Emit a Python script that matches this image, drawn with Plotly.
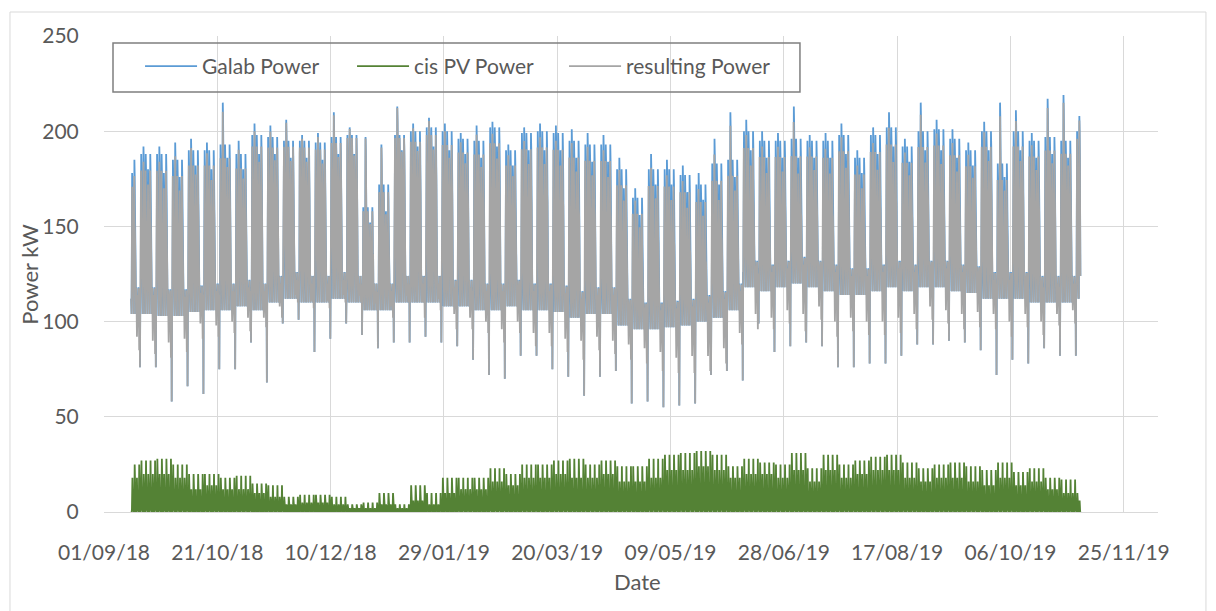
import datetime as dt
import plotly.graph_objects as go

# ---- data (one value per week, weeks starting Monday 2018-09-10) ----
week0 = dt.datetime(2018, 9, 10)
data_start = dt.datetime(2018, 9, 13)
data_end = dt.datetime(2019, 11, 6)

# typical weekday peak of Galab power (kW)
galab_typ = [185, 188, 188, 185, 190, 190, 193, 188, 198, 197,
             195, 195, 194, 197, 198, 160, 172, 198, 200, 202,
             200, 196, 195, 202, 190, 199, 200, 199, 195, 193,
             193, 180, 165, 180, 180, 177, 172, 183, 185, 200,
             195, 195, 196, 195, 195, 198, 186, 198, 202, 192,
             200, 201, 196, 190, 200, 183, 200, 195, 197, 195,
             200]
# highest spike of the week (kW)
galab_top = [188, 192, 192, 194, 196, 194, 215, 195, 204, 203,
             206, 198, 199, 210, 202, 197, 193, 213, 204, 207,
             204, 199, 203, 205, 193, 202, 204, 203, 201, 199,
             198, 186, 170, 188, 185, 182, 178, 196, 210, 206,
             200, 199, 213, 198, 199, 204, 190, 202, 210, 196,
             215, 206, 201, 194, 205, 215, 211, 199, 217, 219,
             208]
# lowest weekday peak of the week (kW)
galab_low = [178, 180, 178, 176, 182, 180, 186, 180, 188, 188,
             186, 186, 185, 188, 188, 152, 158, 190, 192, 192,
             190, 188, 186, 192, 182, 190, 190, 190, 186, 184,
             184, 170, 156, 172, 172, 168, 164, 172, 176, 190,
             186, 186, 186, 186, 186, 188, 178, 188, 192, 184,
             190, 190, 186, 182, 190, 176, 190, 186, 188, 186,
             190]
# night / weekend base load (kW)
galab_base = [104, 104, 103, 103, 105, 106, 106, 108, 106, 110,
              112, 110, 110, 112, 110, 106, 106, 110, 110, 110,
              108, 108, 106, 106, 108, 106, 106, 105, 102, 104,
              104, 98, 96, 96, 97, 98, 100, 102, 106, 118,
              116, 118, 120, 118, 116, 114, 114, 116, 118, 116,
              118, 118, 116, 115, 112, 112, 112, 110, 110, 110,
              112]
# weekly minimum (dip at the end of the weekend, kW)
galab_dip = [76, 76, 58, 66, 62, 75, 75, 89, 68, 99,
             101, 84, 91, 99, 93, 86, 89, 89, 92, 89,
             87, 80, 72, 70, 82, 82, 75, 71, 61, 71,
             74, 57, 58, 55, 56, 57, 72, 74, 69, 99,
             84, 87, 89, 87, 76, 76, 78, 78, 82, 88,
             88, 90, 89, 85, 72, 80, 78, 86, 82, 82,
             89]
# weekly maximum of the cis PV power (kW)
pv_peak = [25, 27, 28, 25, 20, 20, 18, 19, 15, 14,
           8, 9, 9, 8, 4, 5, 10, 4, 14, 10,
           18, 18, 18, 23, 20, 25, 25, 27, 28, 25,
           27, 24, 24, 28, 30, 31, 32, 30, 24, 28,
           26, 25, 31, 23, 30, 25, 27, 29, 30, 26,
           23, 25, 26, 24, 22, 26, 21, 23, 18, 17,
           10]
# lower daily PV maxima seen within each week (kW)
pv_low = [18, 20, 20, 18, 12, 14, 12, 12, 10, 8,
          4, 5, 5, 4, 2, 2, 4, 2, 6, 4,
          10, 12, 12, 16, 14, 18, 18, 20, 18, 18,
          20, 16, 16, 18, 22, 22, 24, 22, 18, 20,
          20, 18, 22, 16, 22, 18, 20, 22, 22, 18,
          16, 18, 18, 16, 14, 18, 14, 16, 12, 10,
          6]

# ---- coarse daily profile built from the weekly values ----
hours = [0, 4, 6, 8, 10, 13, 16, 18, 21]
pv_shape = [0, 0, 0.02, 0.1, 0.4, 1.0, 0.5, 0.1, 0]

t, galab, pv, res = [], [], [], []
for k in range(len(galab_typ)):
    b = galab_base[k]
    day_peaks = [galab_typ[k], galab_top[k], galab_typ[k], galab_low[k], galab_typ[k]]
    for d in range(7):
        day = week0 + dt.timedelta(days=7 * k + d)
        if day < data_start or day >= data_end:
            continue
        if d < 5:
            p = day_peaks[d]
            g = [b + 8, b, b + 20, p - 6, p, p - 8, p - 25, b + 30, b + 12]
        else:
            g = [b + 10, b, b + 14, b + 12, b + 8, b + 6, b + 5, b + 10, b + 8]
            if d == 6:
                g[-1] = galab_dip[k]
        pmax = pv_peak[k] if d % 2 == 0 else pv_low[k]
        for h, gv, f in zip(hours, g, pv_shape):
            pvv = f * pmax
            t.append(day + dt.timedelta(hours=h))
            galab.append(gv)
            pv.append(pvv)
            res.append(gv - pvv)

FONT = "Lato"
TXT = "#595959"
GRID = "#D9D9D9"

fig = go.Figure()
fig.add_trace(go.Scatter(x=t, y=galab, mode="lines", name="Galab Power",
                         line=dict(color="#5B9BD5", width=1.8)))
fig.add_trace(go.Scatter(x=t, y=pv, mode="lines", name="cis PV Power",
                         line=dict(color="#548235", width=1.8)))
fig.add_trace(go.Scatter(x=t, y=res, mode="lines", name="resulting Power",
                         line=dict(color="#A5A5A5", width=1.8)))

fig.update_layout(
    width=1208, height=603, autosize=False,
    margin=dict(l=96, r=58, t=28, b=99),
    paper_bgcolor="white", plot_bgcolor="white",
    font=dict(family=FONT, size=21, color=TXT),
    showlegend=True,
    legend=dict(orientation="h", x=0.0342, y=0.979, xanchor="left", yanchor="top",
                borderwidth=0, bgcolor="rgba(0,0,0,0)",
                font=dict(family=FONT, size=21, color=TXT),
                entrywidth=145, itemwidth=52),
    xaxis=dict(type="date", range=["2018-09-01", "2019-12-10 03:00"],
               tick0="2018-09-01", dtick=50 * 86400000, tickformat="%d/%m/%y",
               showgrid=True, gridcolor=GRID, gridwidth=1,
               showline=True, linecolor=GRID, linewidth=1,
               ticks="outside", ticklen=22, tickcolor="rgba(0,0,0,0)",
               tickfont=dict(family=FONT, size=21, color=TXT), zeroline=False),
    yaxis=dict(range=[0, 250], dtick=50, showgrid=True, gridcolor=GRID, gridwidth=1,
               showline=False, zeroline=False,
               ticks="outside", ticklen=20, tickcolor="rgba(0,0,0,0)",
               tickfont=dict(family=FONT, size=21, color=TXT)),
    annotations=[
        dict(text="Power kW", xref="paper", yref="paper", x=-0.0715, y=0.5,
             xanchor="center", yanchor="middle",
             textangle=-90, showarrow=False, font=dict(family=FONT, size=22, color=TXT)),
        dict(text="Date", xref="paper", yref="paper", x=0.5057, y=-0.145,
             xanchor="center", yanchor="middle",
             showarrow=False, font=dict(family=FONT, size=22, color=TXT)),
    ],
    shapes=[
        dict(type="rect", xref="paper", yref="paper", x0=-0.0892, x1=1.0455,
             y0=-0.2164, y1=1.0504, line=dict(color=GRID, width=1), layer="below"),
        dict(type="rect", xref="paper", yref="paper", x0=0.00854, x1=0.6603,
             y0=0.8824, y1=0.9853, line=dict(color="#7F7F7F", width=1.5),
             fillcolor="rgba(0,0,0,0)", layer="above"),
    ],
)

fig.write_html("out.html")
